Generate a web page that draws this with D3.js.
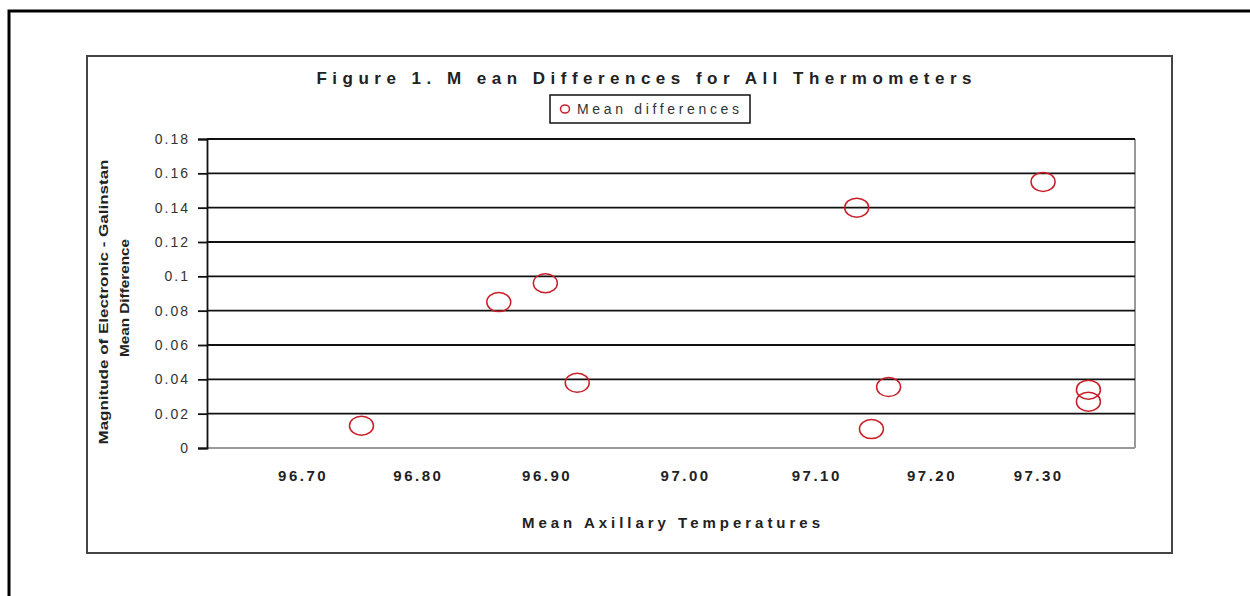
<!DOCTYPE html>
<html>
<head>
<meta charset="utf-8">
<script src="https://cdn.jsdelivr.net/npm/d3@7"></script>
<style>
  body { margin: 0; background: #fff; }
  text { font-family: 'Liberation Sans', Arial, sans-serif; }
</style>
</head>
<body>
<script>
// mean axillary temperature for each thermometer pair
const temps = [96.748, 96.860, 96.898, 96.924, 97.152, 97.164, 97.178, 97.304, 97.341, 97.341];
// magnitude of electronic - galinstan mean difference
const diffs = [0.013, 0.085, 0.096, 0.038, 0.140, 0.011, 0.0355, 0.155, 0.034, 0.027];

// y ticks
const yTicks = [0, 0.02, 0.04, 0.06, 0.08, 0.1, 0.12, 0.14, 0.16, 0.18];
// x tick labels and where they sit on the axis (they are not evenly placed in the original)
const xTickLabels = ['96.70', '96.80', '96.90', '97.00', '97.10', '97.20', '97.30'];
const xTickAt = [96.70, 96.794, 96.899, 97.012, 97.119, 97.213, 97.30];

const data = temps.map((t, i) => ({temp: t, diff: diffs[i]}));

const width = 1250;
const height = 596;
const plot = {left: 207, right: 1135, top: 139, bottom: 448};

const svg = d3.select('body')
  .append('svg')
  .attr('width', width)
  .attr('height', height);

// page border
svg.append('rect')
  .attr('x', 9).attr('y', 11)
  .attr('width', 1260).attr('height', 600)
  .attr('fill', 'none')
  .attr('stroke', '#000')
  .attr('stroke-width', 3);

// chart border
svg.append('rect')
  .attr('x', 87).attr('y', 56)
  .attr('width', 1085).attr('height', 497)
  .attr('fill', '#fff')
  .attr('stroke', '#444')
  .attr('stroke-width', 2);

const xScale = d3.scaleLinear()
  .domain([96.622, 97.379])
  .range([plot.left, plot.right]);

const yScale = d3.scaleLinear()
  .domain([0, 0.18])
  .range([plot.bottom, plot.top]);

// plot area frame (right and bottom are grey)
svg.append('line')
  .attr('x1', plot.right).attr('x2', plot.right)
  .attr('y1', plot.top).attr('y2', plot.bottom)
  .attr('stroke', '#999').attr('stroke-width', 2);
svg.append('line')
  .attr('x1', plot.left).attr('x2', plot.right)
  .attr('y1', plot.bottom).attr('y2', plot.bottom)
  .attr('stroke', '#999').attr('stroke-width', 2);

// gridlines
svg.append('g')
  .selectAll('line')
  .data(yTicks.filter(d => d > 0))
  .join('line')
  .attr('x1', plot.left)
  .attr('x2', plot.right)
  .attr('y1', d => yScale(d))
  .attr('y2', d => yScale(d))
  .attr('stroke', '#111')
  .attr('stroke-width', 1.8);

// y axis
const yAxis = d3.axisLeft(yScale)
  .tickValues(yTicks)
  .tickFormat(d => d === 0 ? '0' : d3.format('.2~f')(d))
  .tickSize(9)
  .tickPadding(8);

const gy = svg.append('g')
  .attr('transform', `translate(${plot.left},0)`)
  .call(yAxis);
gy.select('.domain').attr('stroke', '#111').attr('stroke-width', 1.8);
gy.selectAll('.tick line').attr('stroke', '#111').attr('stroke-width', 1.8);
gy.selectAll('text')
  .style('font-size', '14px')
  .style('letter-spacing', '2px')
  .attr('fill', '#333');

// x axis labels
const xAxis = d3.axisBottom(xScale)
  .tickValues(xTickAt)
  .tickFormat((d, i) => xTickLabels[i])
  .tickSize(0)
  .tickPadding(22);

const gx = svg.append('g')
  .attr('transform', `translate(0,${plot.bottom})`)
  .call(xAxis);
gx.select('.domain').remove();
gx.selectAll('text')
  .style('font-size', '15px')
  .style('font-weight', 'bold')
  .style('letter-spacing', '2.5px')
  .attr('fill', '#222');

// points
svg.append('g')
  .selectAll('ellipse')
  .data(data)
  .join('ellipse')
  .attr('cx', d => xScale(d.temp))
  .attr('cy', d => yScale(d.diff))
  .attr('rx', 12)
  .attr('ry', 9.5)
  .attr('fill', 'none')
  .attr('stroke', '#c8202a')
  .attr('stroke-width', 1.5);

// title
svg.append('text')
  .attr('x', 644)
  .attr('y', 84)
  .attr('text-anchor', 'middle')
  .attr('textLength', 655)
  .attr('lengthAdjust', 'spacing')
  .style('font-size', '17px')
  .style('font-weight', 'bold')
  .attr('fill', '#222')
  .text('Figure 1. M ean Differences for All Thermometers');

// legend
const legend = svg.append('g');
legend.append('rect')
  .attr('x', 550).attr('y', 95)
  .attr('width', 200).attr('height', 28)
  .attr('fill', '#fff')
  .attr('stroke', '#111')
  .attr('stroke-width', 1.5);
legend.append('ellipse')
  .attr('cx', 565).attr('cy', 109)
  .attr('rx', 4.5).attr('ry', 4)
  .attr('fill', 'none')
  .attr('stroke', '#c8202a')
  .attr('stroke-width', 1.5);
legend.append('text')
  .attr('x', 577)
  .attr('y', 114)
  .attr('textLength', 162)
  .attr('lengthAdjust', 'spacing')
  .style('font-size', '14px')
  .attr('fill', '#333')
  .text('Mean differences');

// y axis title (two lines)
svg.append('text')
  .attr('transform', 'translate(108,302) rotate(-90)')
  .attr('text-anchor', 'middle')
  .attr('textLength', 285)
  .attr('lengthAdjust', 'spacingAndGlyphs')
  .style('font-size', '13px')
  .style('font-weight', 'bold')
  .attr('fill', '#222')
  .text('Magnitude of Electronic - Galinstan');
svg.append('text')
  .attr('transform', 'translate(129,298) rotate(-90)')
  .attr('text-anchor', 'middle')
  .attr('textLength', 118)
  .attr('lengthAdjust', 'spacingAndGlyphs')
  .style('font-size', '13px')
  .style('font-weight', 'bold')
  .attr('fill', '#222')
  .text('Mean Difference');

// x axis title
svg.append('text')
  .attr('x', 671)
  .attr('y', 528)
  .attr('text-anchor', 'middle')
  .attr('textLength', 298)
  .attr('lengthAdjust', 'spacing')
  .style('font-size', '15px')
  .style('font-weight', 'bold')
  .attr('fill', '#222')
  .text('Mean Axillary Temperatures');
</script>
</body>
</html>
